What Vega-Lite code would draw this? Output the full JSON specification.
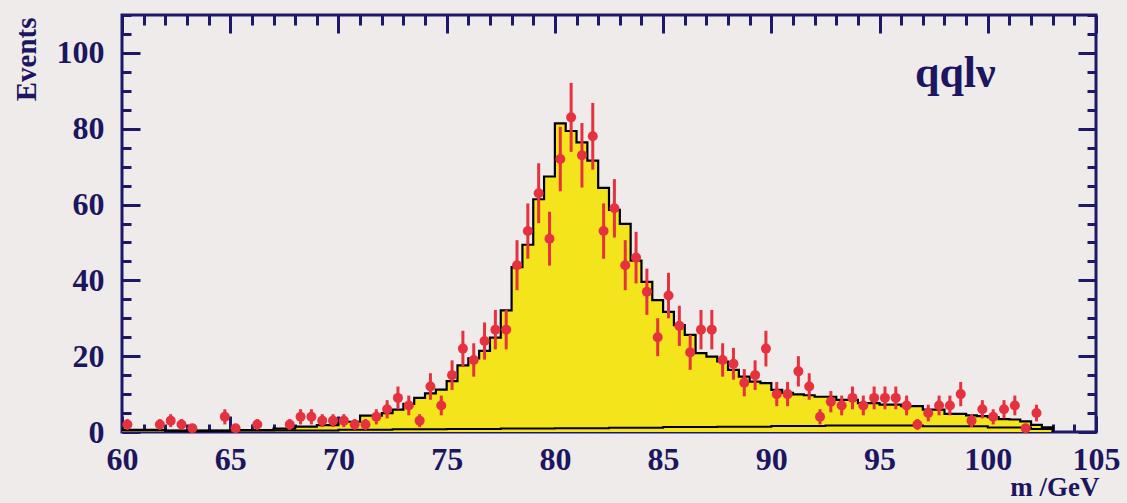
{
  "$schema": "https://vega.github.io/schema/vega-lite/v6.json",
  "width": 974,
  "height": 417,
  "autosize": {"type": "none"},
  "padding": {"left": 122, "top": 15, "right": 31, "bottom": 71},
  "background": "#efebea",
  "config": {
    "view": {"stroke": "#1d1868", "strokeWidth": 3},
    "axis": {
      "domain": false, "grid": false,
      "labelFont": "Liberation Serif", "labelFontWeight": "bold", "labelFontSize": 32, "labelColor": "#1c1660",
      "tickColor": "#1d1868", "tickWidth": 3,
      "titleFont": "Liberation Serif", "titleFontWeight": "bold", "titleFontSize": 29, "titleColor": "#1c1660",
      "labelOverlap": false, "labelFlush": false
    }
  },
  "datasets": {
    "mc": [
      {"m": 60.0, "n": 0.6}, {"m": 60.5, "n": 0.6}, {"m": 61.0, "n": 0.6}, {"m": 61.5, "n": 0.6},
      {"m": 62.0, "n": 0.3}, {"m": 62.5, "n": 0.3}, {"m": 63.0, "n": 0.3}, {"m": 63.5, "n": 0.3},
      {"m": 64.0, "n": 0.3}, {"m": 64.5, "n": 0.3}, {"m": 65.0, "n": 0.5}, {"m": 65.5, "n": 0.5},
      {"m": 66.0, "n": 0.5}, {"m": 66.5, "n": 0.5}, {"m": 67.0, "n": 0.9}, {"m": 67.5, "n": 0.9},
      {"m": 68.0, "n": 1.4}, {"m": 68.5, "n": 1.4}, {"m": 69.0, "n": 1.8}, {"m": 69.5, "n": 1.8},
      {"m": 70.0, "n": 2.7}, {"m": 70.5, "n": 2.7}, {"m": 71.0, "n": 4.3}, {"m": 71.5, "n": 4.3},
      {"m": 72.0, "n": 5.0}, {"m": 72.5, "n": 5.9}, {"m": 73.0, "n": 7.4}, {"m": 73.5, "n": 9.0},
      {"m": 74.0, "n": 10.2}, {"m": 74.5, "n": 11.2}, {"m": 75.0, "n": 13.4}, {"m": 75.5, "n": 17.6},
      {"m": 76.0, "n": 19.4}, {"m": 76.5, "n": 21.4}, {"m": 77.0, "n": 24.9}, {"m": 77.5, "n": 32.1},
      {"m": 78.0, "n": 43.5}, {"m": 78.5, "n": 49.4}, {"m": 79.0, "n": 61.4}, {"m": 79.5, "n": 67.4},
      {"m": 80.0, "n": 81.4}, {"m": 80.5, "n": 79.4}, {"m": 81.0, "n": 76.4}, {"m": 81.5, "n": 71.6},
      {"m": 82.0, "n": 64.4}, {"m": 82.5, "n": 58.6}, {"m": 83.0, "n": 54.9}, {"m": 83.5, "n": 45.2},
      {"m": 84.0, "n": 39.6}, {"m": 84.5, "n": 34.8}, {"m": 85.0, "n": 31.7}, {"m": 85.5, "n": 28.2},
      {"m": 86.0, "n": 25.6}, {"m": 86.5, "n": 20.8}, {"m": 87.0, "n": 19.9}, {"m": 87.5, "n": 18.6},
      {"m": 88.0, "n": 16.4}, {"m": 88.5, "n": 14.6}, {"m": 89.0, "n": 13.3}, {"m": 89.5, "n": 12.9},
      {"m": 90.0, "n": 11.1}, {"m": 90.5, "n": 10.3}, {"m": 91.0, "n": 9.9}, {"m": 91.5, "n": 9.7},
      {"m": 92.0, "n": 9.3}, {"m": 92.5, "n": 9.3}, {"m": 93.0, "n": 8.5}, {"m": 93.5, "n": 8.5},
      {"m": 94.0, "n": 7.6}, {"m": 94.5, "n": 7.6}, {"m": 95.0, "n": 7.2}, {"m": 95.5, "n": 7.2},
      {"m": 96.0, "n": 6.8}, {"m": 96.5, "n": 6.8}, {"m": 97.0, "n": 5.9}, {"m": 97.5, "n": 5.9},
      {"m": 98.0, "n": 4.8}, {"m": 98.5, "n": 4.8}, {"m": 99.0, "n": 4.4}, {"m": 99.5, "n": 4.2},
      {"m": 100.0, "n": 3.9}, {"m": 100.5, "n": 3.4}, {"m": 101.0, "n": 3.3}, {"m": 101.5, "n": 2.8},
      {"m": 102.0, "n": 1.9}, {"m": 102.5, "n": 1.2}, {"m": 103.0, "n": 0}
    ],
    "bg": [
      {"m": 60.0, "n": 0.4}, {"m": 65.0, "n": 0.4}, {"m": 70.0, "n": 0.6}, {"m": 72.5, "n": 0.7},
      {"m": 75.0, "n": 0.8}, {"m": 77.5, "n": 0.9}, {"m": 80.0, "n": 1.0}, {"m": 82.5, "n": 1.1},
      {"m": 85.0, "n": 1.3}, {"m": 87.5, "n": 1.4}, {"m": 90.0, "n": 1.6}, {"m": 92.5, "n": 1.7},
      {"m": 95.0, "n": 1.7}, {"m": 97.0, "n": 1.5}, {"m": 100.0, "n": 1.2}, {"m": 102.0, "n": 0.8},
      {"m": 103.0, "n": 0}
    ],
    "obs": [
      {"m": 60.25, "n": 2, "lo": 0.6, "hi": 3.4},
      {"m": 61.75, "n": 2, "lo": 0.6, "hi": 3.4},
      {"m": 62.25, "n": 3, "lo": 1.3, "hi": 4.7},
      {"m": 62.75, "n": 2, "lo": 0.6, "hi": 3.4},
      {"m": 63.25, "n": 1, "lo": 0, "hi": 2},
      {"m": 64.75, "n": 4, "lo": 2, "hi": 6},
      {"m": 65.25, "n": 1, "lo": 0, "hi": 2},
      {"m": 66.25, "n": 2, "lo": 0.6, "hi": 3.4},
      {"m": 67.75, "n": 2, "lo": 0.6, "hi": 3.4},
      {"m": 68.25, "n": 4, "lo": 2, "hi": 6},
      {"m": 68.75, "n": 4, "lo": 2, "hi": 6},
      {"m": 69.25, "n": 3, "lo": 1.3, "hi": 4.7},
      {"m": 69.75, "n": 3, "lo": 1.3, "hi": 4.7},
      {"m": 70.25, "n": 3, "lo": 1.3, "hi": 4.7},
      {"m": 70.75, "n": 2, "lo": 0.6, "hi": 3.4},
      {"m": 71.25, "n": 2, "lo": 0.6, "hi": 3.4},
      {"m": 71.75, "n": 4, "lo": 2, "hi": 6},
      {"m": 72.25, "n": 6, "lo": 3.6, "hi": 8.4},
      {"m": 72.75, "n": 9, "lo": 6, "hi": 12},
      {"m": 73.25, "n": 7, "lo": 4.4, "hi": 9.6},
      {"m": 73.75, "n": 3, "lo": 1.3, "hi": 4.7},
      {"m": 74.25, "n": 12, "lo": 8.5, "hi": 15.5},
      {"m": 74.75, "n": 7, "lo": 4.4, "hi": 9.6},
      {"m": 75.25, "n": 15, "lo": 11.1, "hi": 18.9},
      {"m": 75.75, "n": 22, "lo": 17.3, "hi": 26.7},
      {"m": 76.25, "n": 19, "lo": 14.6, "hi": 23.4},
      {"m": 76.75, "n": 24, "lo": 19.1, "hi": 28.9},
      {"m": 77.25, "n": 27, "lo": 21.8, "hi": 32.2},
      {"m": 77.75, "n": 27, "lo": 21.8, "hi": 32.2},
      {"m": 78.25, "n": 44, "lo": 37.4, "hi": 50.6},
      {"m": 78.75, "n": 53, "lo": 45.7, "hi": 60.3},
      {"m": 79.25, "n": 63, "lo": 55.1, "hi": 70.9},
      {"m": 79.75, "n": 51, "lo": 43.9, "hi": 58.1},
      {"m": 80.25, "n": 72, "lo": 63.5, "hi": 80.5},
      {"m": 80.75, "n": 83, "lo": 73.9, "hi": 92.1},
      {"m": 81.25, "n": 73, "lo": 64.5, "hi": 81.5},
      {"m": 81.75, "n": 78, "lo": 69.2, "hi": 86.8},
      {"m": 82.25, "n": 53, "lo": 45.7, "hi": 60.3},
      {"m": 82.75, "n": 59, "lo": 51.3, "hi": 66.7},
      {"m": 83.25, "n": 44, "lo": 37.4, "hi": 50.6},
      {"m": 83.75, "n": 46, "lo": 39.2, "hi": 52.8},
      {"m": 84.25, "n": 37, "lo": 30.9, "hi": 43.1},
      {"m": 84.75, "n": 25, "lo": 20, "hi": 30},
      {"m": 85.25, "n": 36, "lo": 30, "hi": 42},
      {"m": 85.75, "n": 28, "lo": 22.7, "hi": 33.3},
      {"m": 86.25, "n": 21, "lo": 16.4, "hi": 25.6},
      {"m": 86.75, "n": 27, "lo": 21.8, "hi": 32.2},
      {"m": 87.25, "n": 27, "lo": 21.8, "hi": 32.2},
      {"m": 87.75, "n": 19, "lo": 14.6, "hi": 23.4},
      {"m": 88.25, "n": 18, "lo": 13.8, "hi": 22.2},
      {"m": 88.75, "n": 13, "lo": 9.4, "hi": 16.6},
      {"m": 89.25, "n": 15, "lo": 11.1, "hi": 18.9},
      {"m": 89.75, "n": 22, "lo": 17.3, "hi": 26.7},
      {"m": 90.25, "n": 10, "lo": 6.8, "hi": 13.2},
      {"m": 90.75, "n": 10, "lo": 6.8, "hi": 13.2},
      {"m": 91.25, "n": 16, "lo": 12, "hi": 20},
      {"m": 91.75, "n": 12, "lo": 8.5, "hi": 15.5},
      {"m": 92.25, "n": 4, "lo": 2, "hi": 6},
      {"m": 92.75, "n": 8, "lo": 5.2, "hi": 10.8},
      {"m": 93.25, "n": 7, "lo": 4.4, "hi": 9.6},
      {"m": 93.75, "n": 9, "lo": 6, "hi": 12},
      {"m": 94.25, "n": 7, "lo": 4.4, "hi": 9.6},
      {"m": 94.75, "n": 9, "lo": 6, "hi": 12},
      {"m": 95.25, "n": 9, "lo": 6, "hi": 12},
      {"m": 95.75, "n": 9, "lo": 6, "hi": 12},
      {"m": 96.25, "n": 7, "lo": 4.4, "hi": 9.6},
      {"m": 96.75, "n": 2, "lo": 0.6, "hi": 3.4},
      {"m": 97.25, "n": 5, "lo": 2.8, "hi": 7.2},
      {"m": 97.75, "n": 7, "lo": 4.4, "hi": 9.6},
      {"m": 98.25, "n": 7, "lo": 4.4, "hi": 9.6},
      {"m": 98.75, "n": 10, "lo": 6.8, "hi": 13.2},
      {"m": 99.25, "n": 3, "lo": 1.3, "hi": 4.7},
      {"m": 99.75, "n": 6, "lo": 3.6, "hi": 8.4},
      {"m": 100.25, "n": 4, "lo": 2, "hi": 6},
      {"m": 100.75, "n": 6, "lo": 3.6, "hi": 8.4},
      {"m": 101.25, "n": 7, "lo": 4.4, "hi": 9.6},
      {"m": 101.75, "n": 1, "lo": 0, "hi": 2},
      {"m": 102.25, "n": 5, "lo": 2.8, "hi": 7.2}
    ],
    "note": [{"m": 98.5, "n": 91, "label": "qqlν"}]
  },
  "layer": [
    {
      "data": {"name": "mc"},
      "mark": {"type": "area", "interpolate": "step-after", "color": "#f3e41b", "opacity": 1, "fillOpacity": 1, "line": {"color": "#000000", "strokeWidth": 2.2}},
      "encoding": {
        "x": {
          "field": "m", "type": "quantitative",
          "scale": {"domain": [60, 105], "nice": false, "zero": false},
          "axis": {
            "orient": "bottom",
            "values": [60,61,62,63,64,65,66,67,68,69,70,71,72,73,74,75,76,77,78,79,80,81,82,83,84,85,86,87,88,89,90,91,92,93,94,95,96,97,98,99,100,101,102,103,104,105],
            "tickSize": {"condition": {"test": "datum.value % 5 === 0", "value": -16}, "value": -8},
            "labelExpr": "datum.value % 5 === 0 ? datum.label : ''",
            "labelPadding": 28,
            "title": "m /GeV",
            "titleFontSize": 27,
            "titleX": 977, "titleY": 63, "titleAlign": "right", "titleBaseline": "alphabetic", "titleAnchor": null
          }
        },
        "y": {
          "field": "n", "type": "quantitative",
          "scale": {"domain": [0, 110], "nice": false},
          "axis": {
            "orient": "left",
            "values": [0,5,10,15,20,25,30,35,40,45,50,55,60,65,70,75,80,85,90,95,100,105,110],
            "tickSize": {"condition": {"test": "datum.value % 20 === 0", "value": -18}, "value": -9},
            "labelExpr": "datum.value % 20 === 0 ? datum.label : ''",
            "labelPadding": 36,
            "title": "Events",
            "titleAngle": -90, "titleX": -96, "titleY": 2, "titleAlign": "right", "titleBaseline": "middle", "titleAnchor": null
          }
        }
      }
    },
    {
      "data": {"name": "bg"},
      "mark": {"type": "line", "interpolate": "step-after", "color": "#000000", "strokeWidth": 2},
      "encoding": {
        "x": {
          "field": "m", "type": "quantitative",
          "axis": {
            "orient": "top",
            "values": [60,61,62,63,64,65,66,67,68,69,70,71,72,73,74,75,76,77,78,79,80,81,82,83,84,85,86,87,88,89,90,91,92,93,94,95,96,97,98,99,100,101,102,103,104,105],
            "tickSize": {"condition": {"test": "datum.value % 5 === 0", "value": -18}, "value": -10},
            "labels": false, "title": null
          }
        },
        "y": {
          "field": "n", "type": "quantitative",
          "axis": {
            "orient": "right",
            "values": [0,5,10,15,20,25,30,35,40,45,50,55,60,65,70,75,80,85,90,95,100,105,110],
            "tickSize": {"condition": {"test": "datum.value % 20 === 0", "value": -18}, "value": -9},
            "labels": false, "title": null
          }
        }
      }
    },
    {
      "data": {"name": "obs"},
      "mark": {"type": "rule", "color": "#e5323e", "strokeWidth": 3},
      "encoding": {
        "x": {"field": "m", "type": "quantitative", "axis": null},
        "y": {"field": "lo", "type": "quantitative", "axis": null},
        "y2": {"field": "hi"}
      }
    },
    {
      "data": {"name": "obs"},
      "mark": {"type": "point", "shape": "circle", "filled": true, "color": "#e5323e", "size": 100, "opacity": 1},
      "encoding": {
        "x": {"field": "m", "type": "quantitative", "axis": null},
        "y": {"field": "n", "type": "quantitative", "axis": null}
      }
    },
    {
      "data": {"name": "note"},
      "mark": {"type": "text", "font": "Liberation Serif", "fontWeight": "bold", "fontSize": 44, "color": "#1c1660", "align": "center", "baseline": "alphabetic"},
      "encoding": {
        "x": {"field": "m", "type": "quantitative", "axis": null},
        "y": {"field": "n", "type": "quantitative", "axis": null},
        "text": {"field": "label"}
      }
    }
  ],
  "resolve": {"axis": {"x": "independent", "y": "independent"}}
}
